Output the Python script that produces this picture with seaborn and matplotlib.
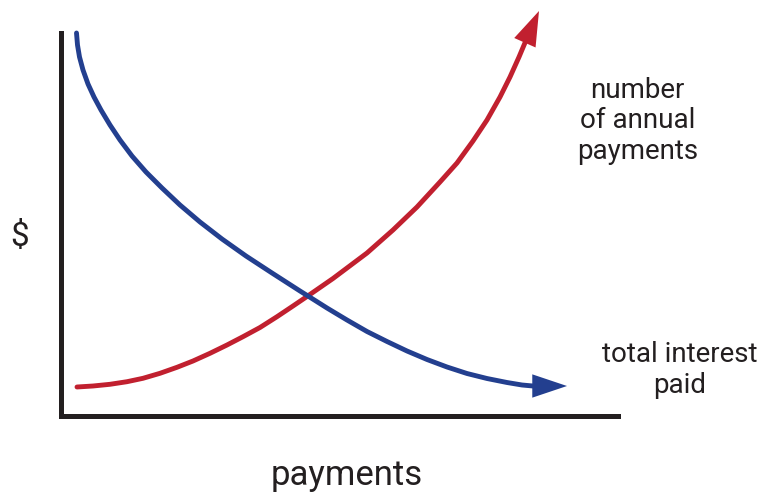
import numpy as np
import seaborn as sns
import matplotlib.pyplot as plt

plt.switch_backend("Agg")

# conceptual curves (arbitrary units, origin at the axes corner)
red_x = [16.5, 32.5, 49.5, 66.5, 82.5, 99.5, 116.5, 132.5, 149.5, 166.5, 182.5, 199.5, 216.5,
         232.5, 246.5, 272.5, 306.5, 332.5, 356.5, 379.5, 396.5, 412.5, 426.5, 439.5, 449.5,
         458.5, 466.5]
red_y = [28.5, 29.5, 31.2, 33.8, 37.2, 42.2, 48.2, 54.5, 62.2, 70.5, 78.8, 88.0, 98.8,
         109.5, 119.0, 137.0, 162.5, 185.5, 208.5, 233.5, 252.5, 274.5, 295.5, 318.5, 338.5,
         358.5, 377.5]
red_tip = (478.5, 404.5)

blue_x = [16.0, 17.0, 19.0, 22.5, 27.5, 33.5, 40.5, 49.5, 59.5, 71.5, 85.5, 101.5, 119.5,
          139.5, 161.5, 185.5, 211.5, 239.5, 247.5, 266.5, 286.5, 306.5, 326.5, 346.5, 366.5,
          386.5, 406.5, 426.5, 446.5, 461.5, 472.5]
blue_y = [382.5, 370.5, 358.5, 345.5, 331.5, 318.5, 305.5, 290.5, 275.5, 259.5, 243.5, 227.5,
          210.5, 193.5, 176.5, 159.5, 142.5, 124.5, 119.5, 107.5, 95.5, 84.0, 74.0, 64.5, 56.0,
          48.5, 42.0, 37.0, 33.0, 30.5, 29.5]
blue_tip = (506.5, 29.5)

RED = "#C1202F"
BLUE = "#233F8F"
INK = "#231F20"

sns.set_theme(style="white")
plt.rcParams["font.family"] = ["Roboto", "DejaVu Sans"]

fig = plt.figure(figsize=(7.68, 4.93), dpi=100)
ax = fig.add_axes([60.5 / 768, 77.5 / 493, 557.5 / 768, 382.5 / 493])
ax.set_xlim(0, 557.5)
ax.set_ylim(0, 382.5)


def curve(xs, ys, tip, color):
    sns.lineplot(x=xs, y=ys, sort=False, color=color, lw=3.5, ax=ax, clip_on=False)
    # arrow head pointing from the last curve point to the tip
    prev = np.array([xs[-1], ys[-1]])
    end = np.array(tip)
    start = end - 3 * (end - prev)
    ax.annotate("", xy=tuple(end), xytext=tuple(start), annotation_clip=False,
                arrowprops=dict(arrowstyle="-|>,head_length=25,head_width=8.4",
                                mutation_scale=1, color=color, lw=0,
                                shrinkA=0, shrinkB=0))


curve(red_x, red_y, red_tip, RED)
curve(blue_x, blue_y, blue_tip, BLUE)

for side in ["top", "right"]:
    ax.spines[side].set_visible(False)
for side in ["left", "bottom"]:
    ax.spines[side].set_color(INK)
    ax.spines[side].set_linewidth(3.6)
ax.set_xticks([])
ax.set_yticks([])

ax.set_xlabel("payments", fontsize=25, color=INK, va="center")
ax.xaxis.set_label_coords(0.514, -0.156)
ax.set_ylabel("$", fontsize=24, color=INK, rotation=0, va="center", ha="center")
ax.yaxis.set_label_coords(-0.073, 0.467)

ax.text(1.035, 0.77, "number\nof annual\npayments", transform=ax.transAxes,
        fontsize=20, color=INK, ha="center", va="center", linespacing=1.15)
ax.text(1.11, 0.119, "total interest\npaid", transform=ax.transAxes,
        fontsize=20, color=INK, ha="center", va="center", linespacing=1.15)

fig.savefig("out.png", dpi=100)
